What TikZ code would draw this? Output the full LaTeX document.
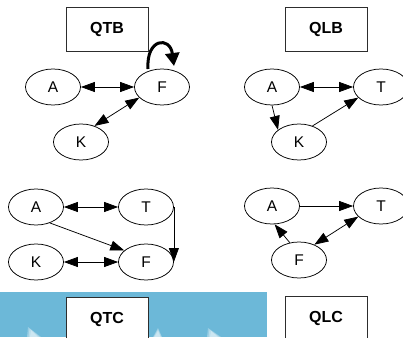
\documentclass[tikz,border=0pt]{standalone}
\usepackage{fontspec}
\setmainfont{Liberation Sans}
\usetikzlibrary{arrows.meta,shapes.geometric}
\definecolor{bandblue}{RGB}{108,184,216}
\definecolor{framegray}{RGB}{45,45,45}
\begin{document}
\begin{tikzpicture}[x=1pt,y=-1pt,
  state/.style={draw, ellipse, minimum width=55pt, minimum height=36pt,
    inner sep=0pt, line width=0.75pt, font=\fontsize{15.5}{18}\selectfont},
  titlebox/.style={draw=framegray, fill=white, minimum width=82pt,
    minimum height=44pt, inner sep=0pt, line width=0.8pt,
    font=\fontsize{16}{18}\selectfont\bfseries},
  tip/.tip={Triangle[length=14pt,width=10pt]},
  onearrow/.style={line width=0.75pt, -tip},
  twoarrow/.style={line width=0.75pt, tip-tip},
  selfloop/.style={line width=3pt, -{Triangle[length=13pt,width=14pt]}},
  glow/.style={fill=white, opacity=0.3}]
\useasboundingbox (0,0) rectangle (403,337);
\clip (0,0) rectangle (403,337);

% blue strip along the bottom with its soft white marks
\fill[bandblue] (0,292) rectangle (267,337);
\foreach \s in {0,1.5,3}{
  \fill[glow] (28+\s,327+\s) -- (41-\s,337) -- (27+\s,337) -- cycle;
  \fill[glow] (158,328+\s) -- (162-0.5*\s,337) -- (153+0.5*\s,337) -- cycle;
  \fill[glow] (208+\s,328+\s) -- (221-\s,337) -- (207+\s,337) -- cycle;
}

% title boxes
\node[titlebox] (qtb) at (107,29) {QTB};
\node[titlebox] (qlb) at (326,29) {QLB};
\node[titlebox] (qtc) at (107,319) {QTC};
\node[titlebox] (qlc) at (326,318) {QLC};

% QTB graph
\node[state] (a1) at (53,87) {A};
\node[state] (f1) at (162,87) {F};
\node[state] (k1) at (81,142) {K};
\draw[twoarrow] (a1) -- (f1);
\draw[twoarrow] (k1.50) -- (f1.205);
\coordinate (ls) at (148,69);
\coordinate (le) at (174,66);
\draw[selfloop] (ls) .. controls (146,38) and (170,36) .. (le);

% QLB graph
\node[state] (a2) at (272,87) {A};
\node[state] (t2) at (381,87) {T};
\node[state] (k2) at (299,142) {K};
\draw[twoarrow] (a2) -- (t2);
\draw[onearrow] (a2.south) -- (k2.150);
\draw[onearrow] (k2.50) -- (t2.205);

% QTC graph
\node[state] (a3) at (36,207) {A};
\node[state] (t3) at (146,207) {T};
\node[state] (k3) at (36,262) {K};
\node[state] (f3) at (146,262) {F};
\draw[twoarrow] (a3) -- (t3);
\draw[twoarrow] (k3) -- (f3);
\draw[onearrow] (a3.-49) -- (f3.152);
\draw[onearrow] (t3.east) -- (f3.east);

% QLC graph
\node[state] (a4) at (272,206) {A};
\node[state] (t4) at (381,206) {T};
\node[state] (f4) at (299,260) {F};
\draw[onearrow] (a4) -- (t4);
\draw[onearrow] (f4.118) -- (a4.-82);
\draw[twoarrow] (f4.45) -- (t4.205);
\end{tikzpicture}
\end{document}
